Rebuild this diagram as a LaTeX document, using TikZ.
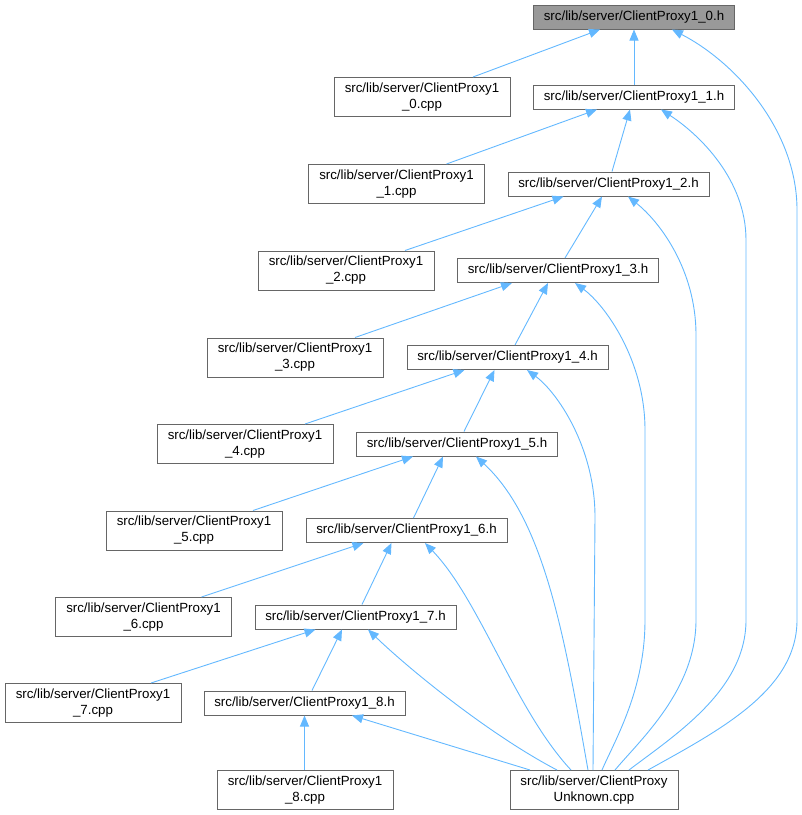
\documentclass[tikz,border=0pt]{standalone}
\usepackage{fontspec}
\setmainfont{Liberation Sans}
\usetikzlibrary{arrows.meta}
\definecolor{edgeblue}{HTML}{63B8FF}
\definecolor{boxgray}{HTML}{666666}
\definecolor{rootfill}{HTML}{999999}
\newcommand{\dfs}{\fontsize{13.3}{16}\selectfont}
\tikzset{
  box/.style={draw=boxgray, line width=1pt, fill=white, inner sep=0pt, align=center, font=\dfs},
  hbox/.style={box, minimum width=201pt, minimum height=24pt},
  cbox/.style={box, minimum width=176pt, minimum height=39pt},
  ubox/.style={box, minimum width=168pt, minimum height=39pt},
  dep/.style={draw=edgeblue, line width=0.9pt, {Triangle[length=11pt,width=9pt]}-},
}
\begin{document}
\begin{tikzpicture}[x=1pt,y=-1pt]
\useasboundingbox (0,0) rectangle (802,815);
% header nodes
\node[hbox, fill=rootfill] (H0) at (634,17) {src/lib/server/ClientProxy1\_0.h};
\node[hbox] (H1) at (634,97) {src/lib/server/ClientProxy1\_1.h};
\node[hbox] (H2) at (608.5,184) {src/lib/server/ClientProxy1\_2.h};
\node[hbox] (H3) at (558,270.5) {src/lib/server/ClientProxy1\_3.h};
\node[hbox] (H4) at (507.5,357.5) {src/lib/server/ClientProxy1\_4.h};
\node[hbox] (H5) at (457,444) {src/lib/server/ClientProxy1\_5.h};
\node[hbox] (H6) at (406.5,530.5) {src/lib/server/ClientProxy1\_6.h};
\node[hbox] (H7) at (355.5,617) {src/lib/server/ClientProxy1\_7.h};
\node[hbox] (H8) at (304.5,703) {src/lib/server/ClientProxy1\_8.h};
% cpp nodes
\node[cbox] (C0) at (422,97) {src/lib/server/ClientProxy1\\\_0.cpp};
\node[cbox] (C1) at (396.5,184) {src/lib/server/ClientProxy1\\\_1.cpp};
\node[cbox] (C2) at (346,270.5) {src/lib/server/ClientProxy1\\\_2.cpp};
\node[cbox] (C3) at (295,357.5) {src/lib/server/ClientProxy1\\\_3.cpp};
\node[cbox] (C4) at (245,444) {src/lib/server/ClientProxy1\\\_4.cpp};
\node[cbox] (C5) at (194,530.5) {src/lib/server/ClientProxy1\\\_5.cpp};
\node[cbox] (C6) at (143.5,617) {src/lib/server/ClientProxy1\\\_6.cpp};
\node[cbox] (C7) at (93,703) {src/lib/server/ClientProxy1\\\_7.cpp};
\node[cbox] (C8) at (305,790) {src/lib/server/ClientProxy1\\\_8.cpp};
\node[ubox] (U) at (594,790) {src/lib/server/ClientProxy\\Unknown.cpp};
% cpp -> header
\draw[dep] ([xshift=-34pt]H0.south) -- ([xshift=51pt]C0.north);
\draw[dep] ([xshift=-37pt]H1.south) -- ([xshift=50pt]C1.north);
\draw[dep] ([xshift=-45pt]H2.south) -- ([xshift=59pt]C2.north);
\draw[dep] ([xshift=-46pt]H3.south) -- ([xshift=60pt]C3.north);
\draw[dep] ([xshift=-43pt]H4.south) -- ([xshift=60pt]C4.north);
\draw[dep] ([xshift=-44pt]H5.south) -- ([xshift=59pt]C5.north);
\draw[dep] ([xshift=-43pt]H6.south) -- ([xshift=58pt]C6.north);
\draw[dep] ([xshift=-40pt]H7.south) -- ([xshift=58pt]C7.north);
\draw[dep] (H8.south) -- (H8.south |- C8.north);
% header chain
\draw[dep] (H0.south) -- (H1.north);
\draw[dep] ([xshift=-4pt]H1.south) -- ([xshift=3.5pt]H2.north);
\draw[dep] ([xshift=-6.5pt]H2.south) -- ([xshift=7pt]H3.north);
\draw[dep] ([xshift=-10pt]H3.south) -- ([xshift=7.5pt]H4.north);
\draw[dep] ([xshift=-13pt]H4.south) -- ([xshift=7pt]H5.north);
\draw[dep] ([xshift=-14pt]H5.south) -- ([xshift=7pt]H6.north);
\draw[dep] ([xshift=-15pt]H6.south) -- ([xshift=6.5pt]H7.north);
\draw[dep] ([xshift=-13.5pt]H7.south) -- ([xshift=7.5pt]H8.north);
% header -> Unknown
\draw[dep] ([xshift=38pt]H0.south) .. controls (735,62) and (797,130) .. (797,210)
  -- (797,620) .. controls (797,690) and (720,730) .. ([xshift=54pt]U.north);
\draw[dep] ([xshift=27pt]H1.south) .. controls (700,135) and (746,180) .. (746,240)
  -- (746,620) .. controls (746,690) and (675,735) .. ([xshift=35pt]U.north);
\draw[dep] ([xshift=19.5pt]H2.south) .. controls (660,222) and (696,270) .. (696,335)
  -- (696,620) .. controls (696,690) and (640,740) .. ([xshift=21pt]U.north);
\draw[dep] ([xshift=17pt]H3.south) .. controls (605,305) and (645,360) .. (645,430)
  -- (645,620) .. controls (645,690) and (615,740) .. ([xshift=8pt]U.north);
\draw[dep] ([xshift=19.5pt]H4.south) .. controls (557,392) and (595,447) .. (595,517)
  -- ([xshift=-1pt]U.north);
\draw[dep] ([xshift=19pt]H5.south) .. controls (545,520) and (565,640) .. ([xshift=-6pt]U.north);
\draw[dep] ([xshift=18.5pt]H6.south) .. controls (480,600) and (515,710) .. ([xshift=-23pt]U.north);
\draw[dep] ([xshift=12.5pt]H7.south) .. controls (410,670) and (490,735) .. ([xshift=-37pt]U.north);
\draw[dep] ([xshift=47.5pt]H8.south) -- ([xshift=-64pt]U.north);
\end{tikzpicture}
\end{document}
